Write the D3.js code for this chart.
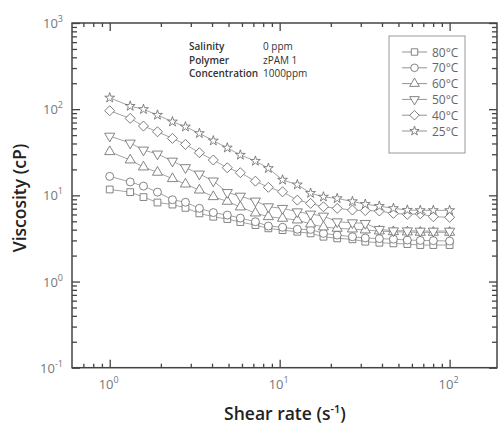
<!DOCTYPE html>
<meta charset="utf-8">
<script src="https://cdn.jsdelivr.net/npm/d3@7"></script>
<style>
body {margin: 0; background: #fff;}
svg {display: block; font-family: "Open Sans", "Noto Sans", sans-serif;}
.tick line {stroke: #444;}
.tick text {display: none;}
.domain {display: none;}
.tlabel {fill: #777; font-size: 13px;}
.title {fill: #222; font-size: 17.5px; font-weight: 600;}
.note {fill: #333; font-size: 10px;}
.leg {fill: #666; font-size: 12px;}
</style>
<div id="vis"></div>
<script>

// shear rate (1/s) and viscosity (cP) per temperature
const shear = [1, 1.32, 1.58, 1.91, 2.34, 2.79, 3.37, 4.07, 4.92, 5.87, 7.2, 8.58,
  10.4, 12.7, 15.2, 18.1, 21.8, 26.8, 31.9, 38.6, 46.7, 56.4, 67.2, 80.2, 100];
const visc80 = [11.7, 10.9, 9.55, 8.26, 7.82, 7.16, 6.18, 5.65, 5.31, 4.9, 4.52, 4.14,
  3.95, 3.78, 3.62, 3.31, 3.17, 3.09, 2.9, 2.82, 2.77, 2.72, 2.65, 2.65, 2.65];
const visc70 = [16.6, 14.3, 12.8, 10.9, 8.89, 8.32, 7.07, 6.31, 5.9, 5.45, 4.94, 4.4,
  4.26, 4.04, 4.02, 3.62, 3.46, 3.31, 3.2, 3.15, 3.1, 3.03, 3.0, 2.98, 2.95];
const visc60 = [32.1, 25.7, 21.3, 18.5, 15.6, 13.5, 11.5, 9.64, 8.52, 7.32, 6.23, 5.65,
  5.41, 5.17, 4.65, 4.29, 4.14, 4.06, 3.96, 3.85, 3.78, 3.75, 3.72, 3.72, 3.72];
const visc50 = [48.7, 40.5, 33.6, 30.2, 25, 21, 17.7, 14.7, 10.8, 9.8, 8.6, 7.38,
  7.07, 6.45, 6.07, 5.75, 4.94, 4.81, 4.73, 4.03, 3.88, 3.88, 3.85, 3.85, 3.85];
const visc40 = [95.8, 78.2, 63.7, 54.7, 45.8, 39, 31.2, 25.7, 20.9, 18.3, 14.6, 12.4,
  11, 8.8, 8.07, 7.37, 7.06, 6.75, 6.66, 6.58, 6.18, 6.02, 6.1, 5.65, 5.56];
const visc25 = [135.5, 108.6, 99.6, 85.5, 71.5, 62.5, 52.4, 43, 35.6, 29.4, 25, 20.6,
  15.1, 13.3, 10.6, 9.6, 9.2, 8.5, 7.9, 7.5, 7.07, 6.75, 6.7, 6.7, 6.7];
const tempLabels = ["80°C", "70°C", "60°C", "50°C", "40°C", "25°C"];
const xMajor = [1, 10, 100], yMajor = [0.1, 1, 10, 100, 1000];
const noteKeys = ["Salinity", "Polymer", "Concentration"];
const noteVals = ["0 ppm", "zPAM 1", "1000ppm"];

const w = 499, h = 426;
const pLeft = 72, pRight = 497, pTop = 23, pBottom = 367.7;

const svg = d3.select("#vis").append("svg")
    .attr("width", w)
    .attr("height", h);

const x = d3.scaleLog().domain([0.6, 190]).range([pLeft, pRight]);
const y = d3.scaleLog().domain([0.1, 1000]).range([pBottom, pTop]);

// minor tick values
const xMinor = [0.7, 0.8, 0.9];
[1, 10].forEach(d => { for (let k = 2; k <= 9; k++) xMinor.push(d * k); });
const yMinor = [];
[0.1, 1, 10, 100].forEach(d => { for (let k = 2; k <= 9; k++) yMinor.push(d * k); });

function ticks(axis, vals, size, tx, ty) {
  svg.append("g")
      .attr("transform", "translate(" + tx + "," + ty + ")")
      .call(axis.tickValues(vals).tickSize(size).tickFormat(""))
      .selectAll(".tick line").attr("stroke-width", 1.3);
}
ticks(d3.axisBottom(x), xMajor, -8, 0, pBottom);
ticks(d3.axisBottom(x), xMinor, -4, 0, pBottom);
ticks(d3.axisTop(x), xMajor, -8, 0, pTop);
ticks(d3.axisTop(x), xMinor, -4, 0, pTop);
ticks(d3.axisLeft(y), yMajor, -8, pLeft, 0);
ticks(d3.axisLeft(y), yMinor, -5, pLeft, 0);
ticks(d3.axisRight(y), yMajor, -8, pRight, 0);
ticks(d3.axisRight(y), yMinor, -5, pRight, 0);

// frame
svg.append("rect")
    .attr("x", pLeft).attr("y", pTop)
    .attr("width", pRight - pLeft).attr("height", pBottom - pTop)
    .attr("fill", "none").attr("stroke", "#444").attr("stroke-width", 1.5);

// tick labels 10^n
function power(sel, n) {
  sel.append("tspan").text("10");
  sel.append("tspan").attr("dy", -6).attr("font-size", 9).text(n);
}
xMajor.forEach(d => {
  svg.append("text").attr("class", "tlabel")
      .attr("x", x(d) - 1).attr("y", 389)
      .attr("text-anchor", "middle")
      .call(power, Math.round(Math.log10(d)));
});
yMajor.forEach(d => {
  svg.append("text").attr("class", "tlabel")
      .attr("x", 63).attr("y", y(d) + 5)
      .attr("text-anchor", "end")
      .call(power, Math.round(Math.log10(d)));
});

// axis titles
const xt = svg.append("text").attr("class", "title")
    .attr("x", 285).attr("y", 420).attr("text-anchor", "middle");
xt.append("tspan").text("Shear rate (s");
xt.append("tspan").attr("dy", -7).attr("font-size", 11).text("-1");
xt.append("tspan").attr("dy", 7).text(")");

svg.append("text").attr("class", "title")
    .attr("transform", "translate(26,198) rotate(-90)")
    .attr("text-anchor", "middle")
    .text("Viscosity (cP)");

// annotation
noteKeys.forEach((t, i) => {
  svg.append("text").attr("class", "note").attr("font-weight", 600)
      .attr("x", 189).attr("y", 50 + i * 13.5).text(t);
  svg.append("text").attr("class", "note")
      .attr("x", 263).attr("y", 50 + i * 13.5).text(noteVals[i]);
});

// series
const shapes = [
  {type: d3.symbolSquare, size: 46, rot: 0},
  {type: d3.symbolCircle, size: 50, rot: 0},
  {type: d3.symbolTriangle, size: 44, rot: 0},
  {type: d3.symbolTriangle, size: 44, rot: 180},
  {type: d3.symbolSquare, size: 50, rot: 45},
  {type: d3.symbolStar, size: 30, rot: 0}
];
const allVisc = [visc80, visc70, visc60, visc50, visc40, visc25];
const line = d3.line().x(d => x(d[0])).y(d => y(d[1]));

allVisc.forEach((vals, i) => {
  const pts = shear.map((s, j) => [s, vals[j]]);
  svg.append("path")
      .attr("d", line(pts))
      .attr("fill", "none").attr("stroke", "#999").attr("stroke-width", 0.9);
});
allVisc.forEach((vals, i) => {
  const pts = shear.map((s, j) => [s, vals[j]]);
  const sym = d3.symbol().type(shapes[i].type).size(shapes[i].size);
  svg.append("g").selectAll("path")
    .data(pts)
    .enter().append("path")
      .attr("d", sym)
      .attr("transform", d => "translate(" + x(d[0]) + "," + y(d[1]) + ") rotate(" + shapes[i].rot + ")")
      .attr("fill", "#fff").attr("stroke", "#666").attr("stroke-width", 0.8);
});

// legend
svg.append("rect")
    .attr("x", 389).attr("y", 36).attr("width", 76).attr("height", 117)
    .attr("fill", "#fff").attr("stroke", "#999").attr("stroke-width", 1);
tempLabels.forEach((t, i) => {
  const ly = 52 + i * 15.8;
  svg.append("line")
      .attr("x1", 402).attr("x2", 427).attr("y1", ly).attr("y2", ly)
      .attr("stroke", "#888").attr("stroke-width", 0.9);
  svg.append("path")
      .attr("d", d3.symbol().type(shapes[i].type).size(shapes[i].size * 0.9)())
      .attr("transform", "translate(414.5," + ly + ") rotate(" + shapes[i].rot + ")")
      .attr("fill", "#fff").attr("stroke", "#666").attr("stroke-width", 0.8);
  svg.append("text").attr("class", "leg")
      .attr("x", 432).attr("y", ly + 4.5).text(t);
});

</script>
